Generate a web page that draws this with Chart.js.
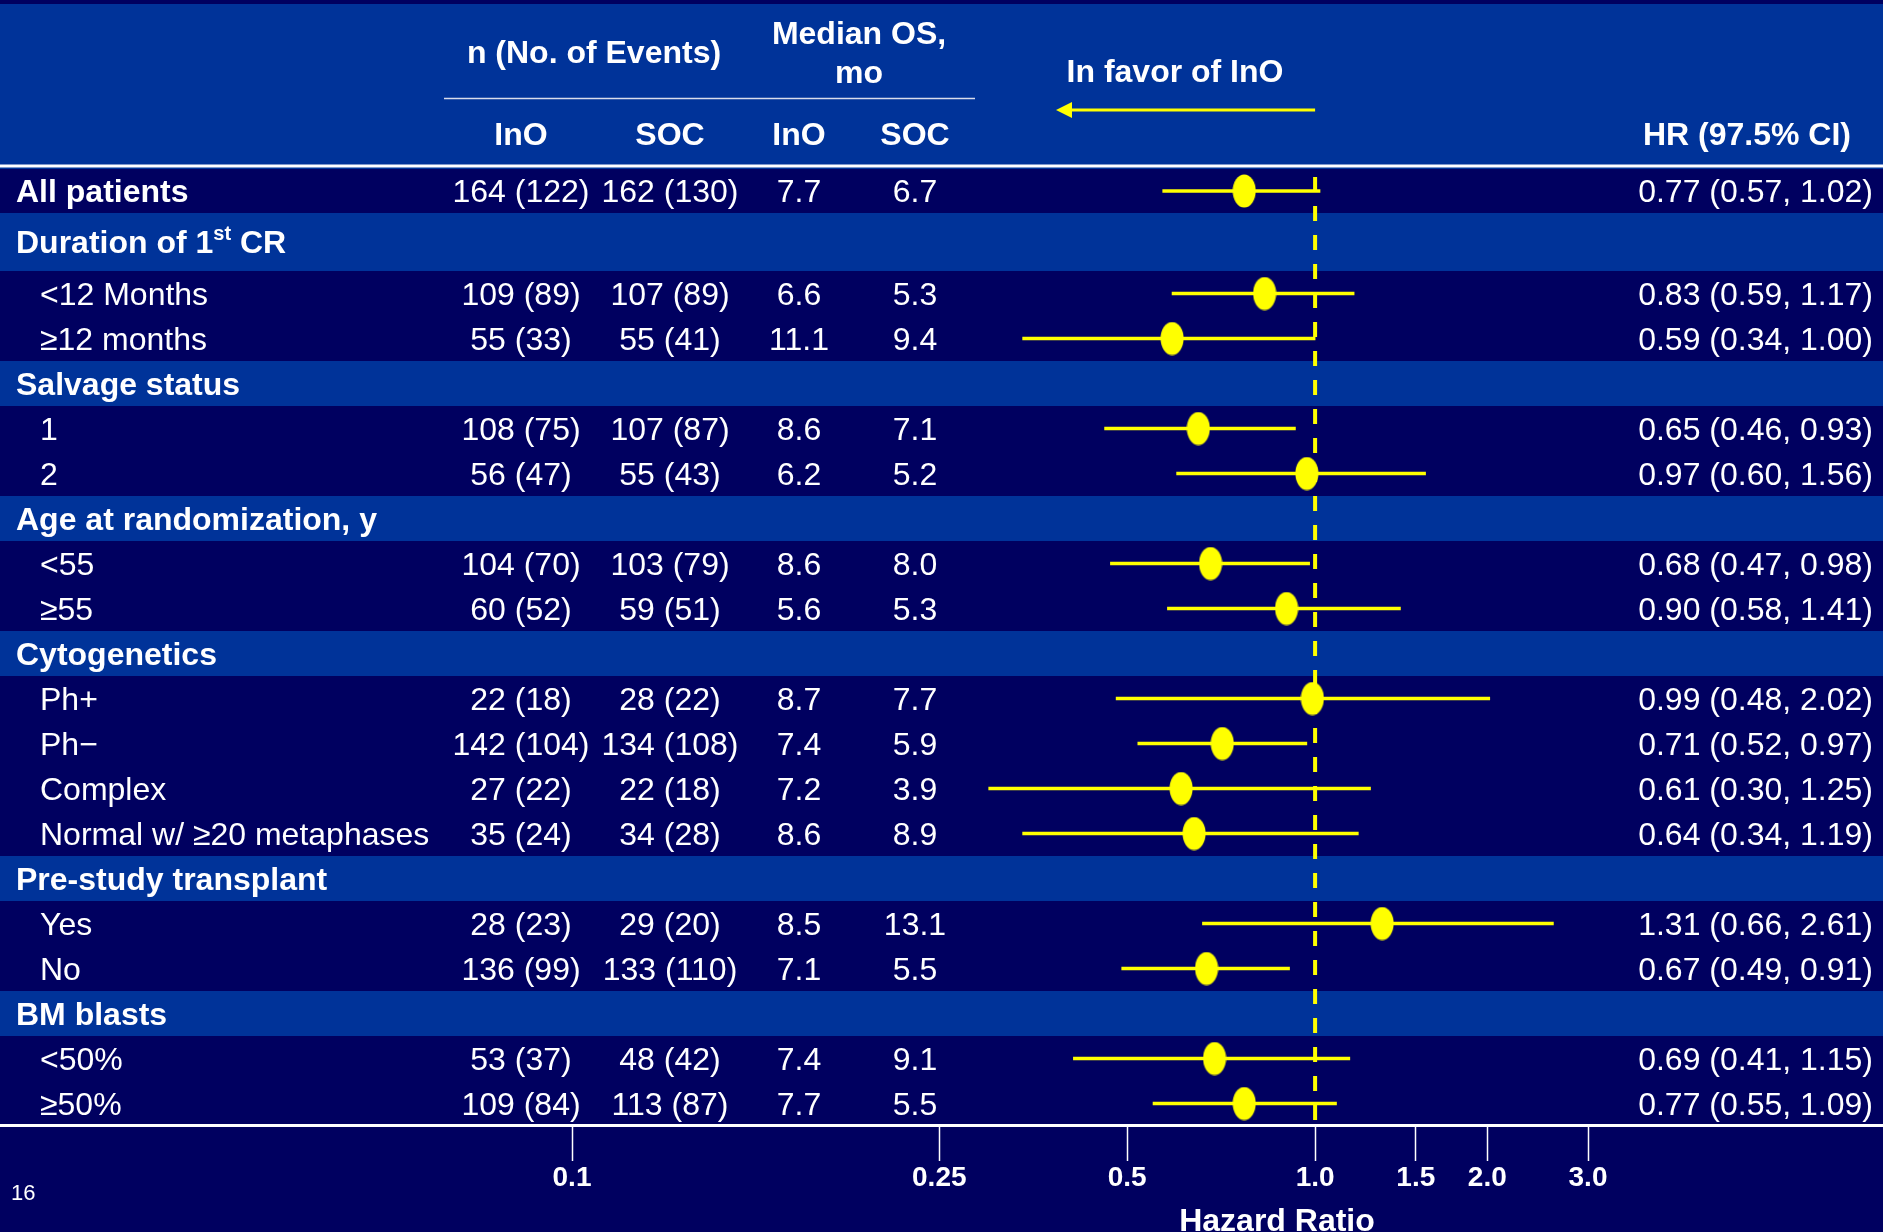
<!DOCTYPE html>
<html>
<head>
<meta charset="utf-8">
<title>Overall survival by subgroup – forest plot</title>
<script src="https://cdn.jsdelivr.net/npm/chart.js@4.4.1/dist/chart.umd.min.js"></script>
<style>
  html, body { margin: 0; padding: 0; background: #000060; }
  #wrap { width: 1883px; height: 1232px; position: relative; overflow: hidden; }
  canvas { display: block; }
</style>
</head>
<body>
<div id="wrap"><canvas id="forest" width="1883" height="1232"></canvas></div>
<script>
// ---- table rows -------------------------------------------------------
const rowLabels = [
  'All patients',
  'Duration of 1st CR', '<12 Months', '≥12 months',
  'Salvage status', '1', '2',
  'Age at randomization, y', '<55', '≥55',
  'Cytogenetics', 'Ph+', 'Ph−', 'Complex', 'Normal w/ ≥20 metaphases',
  'Pre-study transplant', 'Yes', 'No',
  'BM blasts', '<50%', '≥50%'
];
const rowKinds = [
  'total',
  'section', 'item', 'item',
  'section', 'item', 'item',
  'section', 'item', 'item',
  'section', 'item', 'item', 'item', 'item',
  'section', 'item', 'item',
  'section', 'item', 'item'
];

// n (No. of Events)
const nInO      = [164, null, 109, 55, null, 108, 56, null, 104, 60, null, 22, 142, 27, 35, null, 28, 136, null, 53, 109];
const eventsInO = [122, null,  89, 33, null,  75, 47, null,  70, 52, null, 18, 104, 22, 24, null, 23,  99, null, 37,  84];
const nSOC      = [162, null, 107, 55, null, 107, 55, null, 103, 59, null, 28, 134, 22, 34, null, 29, 133, null, 48, 113];
const eventsSOC = [130, null,  89, 41, null,  87, 43, null,  79, 51, null, 22, 108, 18, 28, null, 20, 110, null, 42,  87];

// Median OS, months
const medOSInO = [7.7, null, 6.6, 11.1, null, 8.6, 6.2, null, 8.6, 5.6, null, 8.7, 7.4, 7.2, 8.6, null, 8.5, 7.1, null, 7.4, 7.7];
const medOSSOC = [6.7, null, 5.3,  9.4, null, 7.1, 5.2, null, 8.0, 5.3, null, 7.7, 5.9, 3.9, 8.9, null, 13.1, 5.5, null, 9.1, 5.5];

// Hazard ratio with 97.5% CI
const hazardRatio = [0.77, null, 0.83, 0.59, null, 0.65, 0.97, null, 0.68, 0.90, null, 0.99, 0.71, 0.61, 0.64, null, 1.31, 0.67, null, 0.69, 0.77];
const ciLower     = [0.57, null, 0.59, 0.34, null, 0.46, 0.60, null, 0.47, 0.58, null, 0.48, 0.52, 0.30, 0.34, null, 0.66, 0.49, null, 0.41, 0.55];
const ciUpper     = [1.02, null, 1.17, 1.00, null, 0.93, 1.56, null, 0.98, 1.41, null, 2.02, 0.97, 1.25, 1.19, null, 2.61, 0.91, null, 1.15, 1.09];

// Hazard-ratio axis
const hrTicks      = [0.1, 0.25, 0.5, 1.0, 1.5, 2.0, 3.0];
const hrTickLabels = ['0.1', '0.25', '0.5', '1.0', '1.5', '2.0', '3.0'];
const hrReference  = 1.0;

// ---- styling ----------------------------------------------------------
const FONT   = '"Liberation Sans", Arial, Helvetica, sans-serif';
const NAVY   = '#000060';
const BLUE   = '#003399';
const YELLOW = '#ffff00';
const WHITE  = '#ffffff';

// Log axis whose decades are stretched piecewise between anchor values.
class AnchoredLogScale extends Chart.LogarithmicScale {
  static id = 'anchoredLog';
  _decimalOf(value) {
    const a = this.options.anchors;
    let k = 0;
    while (k < a.length - 2 && value > a[k + 1][0]) k++;
    const [v0, f0] = a[k];
    const [v1, f1] = a[k + 1];
    const t = (Math.log10(value) - Math.log10(v0)) / (Math.log10(v1) - Math.log10(v0));
    return f0 + t * (f1 - f0);
  }
  getPixelForValue(value) {
    if (value === undefined || value === 0) value = this.min;
    if (value === null || isNaN(value) || value <= 0) return NaN;
    return this.getPixelForDecimal(this._decimalOf(value));
  }
  getValueForPixel(pixel) {
    const d = this.getDecimalForPixel(pixel);
    const a = this.options.anchors;
    let k = 0;
    while (k < a.length - 2 && d > a[k + 1][1]) k++;
    const [v0, f0] = a[k];
    const [v1, f1] = a[k + 1];
    const t = (d - f0) / (f1 - f0);
    return Math.pow(10, Math.log10(v0) + t * (Math.log10(v1) - Math.log10(v0)));
  }
  buildTicks() {
    return this.options.tickValues.map(v => ({ value: v }));
  }
}

// Category axis whose rows may have different heights.
class RowBandScale extends Chart.CategoryScale {
  static id = 'rowBand';
  _cumulative() {
    const n = this.getLabels().length;
    const w = this.options.rowWeights || [];
    const cum = [0];
    for (let i = 0; i < n; i++) cum.push(cum[i] + (w[i] != null ? w[i] : 1));
    return cum;
  }
  bandOf(index) {
    const cum = this._cumulative();
    const total = cum[cum.length - 1];
    return [this.top + cum[index] / total * this.height,
            this.top + cum[index + 1] / total * this.height];
  }
  getPixelForValue(value) {
    if (typeof value !== 'number') value = this.parse(value);
    if (value === null || value === undefined || isNaN(value)) return NaN;
    const [a, b] = this.bandOf(Math.round(value));
    return (a + b) / 2;
  }
  getPixelForTick(index) {
    return this.getPixelForValue(this.ticks[index].value);
  }
  getValueForPixel(pixel) {
    const n = this.getLabels().length;
    for (let i = 0; i < n; i++) {
      const [a, b] = this.bandOf(i);
      if (pixel >= a && pixel < b) return i;
    }
    return null;
  }
}
Chart.register(AnchoredLogScale, RowBandScale);

// Point marker: upright yellow ellipse
const dotMarker = (() => {
  const c = document.createElement('canvas');
  c.width = 24; c.height = 34;
  const g = c.getContext('2d');
  g.fillStyle = YELLOW;
  g.beginPath();
  g.ellipse(12, 17, 11.5, 16.5, 0, 0, Math.PI * 2);
  g.fill();
  return c;
})();

function drawText(ctx, s, x, cy, opts = {}) {
  const size = opts.size || 32;
  ctx.font = `${opts.bold ? 'bold ' : ''}${size}px ${FONT}`;
  ctx.fillStyle = opts.color || WHITE;
  ctx.textAlign = opts.align || 'left';
  ctx.textBaseline = 'alphabetic';
  // cy is the vertical centre of the capital letters
  ctx.fillText(s, x, cy + size * 0.716 / 2);
  return ctx.measureText(s).width;
}

// Label with an ordinal suffix raised as superscript (e.g. "1st")
function drawLabel(ctx, s, x, cy, bold) {
  const m = s.match(/^(.*\d)(st|nd|rd|th)(\b.*)$/);
  if (!m) { drawText(ctx, s, x, cy, { bold }); return; }
  let w = drawText(ctx, m[1], x, cy, { bold });
  w += drawText(ctx, m[2], x + w, cy - 9, { bold, size: 20 });
  drawText(ctx, m[3], x + w, cy, { bold });
}

const fmtN = (n, e) => `${n} (${e})`;
const fmtHR = (h, lo, hi) => `${h.toFixed(2)} (${lo.toFixed(2)}, ${hi.toFixed(2)})`;

const backgroundPlugin = {
  id: 'tableBackground',
  beforeDraw(chart) {
    const { ctx, width, height } = chart;
    const yS = chart.scales.y;
    ctx.save();
    ctx.fillStyle = NAVY;
    ctx.fillRect(0, 0, width, height);
    ctx.fillStyle = BLUE;
    ctx.fillRect(0, 4, width, yS.top - 4);
    rowKinds.forEach((kind, i) => {
      const [a, b] = yS.bandOf(i);
      ctx.fillStyle = kind === 'section' ? BLUE : NAVY;
      ctx.fillRect(0, a, width, b - a);
    });
    ctx.fillStyle = WHITE;
    ctx.fillRect(0, yS.top - 4.5, width, 3);
    ctx.fillRect(0, yS.bottom - 2, width, 3);
    ctx.restore();
  }
};

const referenceLinePlugin = {
  id: 'referenceLine',
  beforeDatasetsDraw(chart) {
    const { ctx, chartArea } = chart;
    const x = chart.scales.x.getPixelForValue(hrReference);
    ctx.save();
    ctx.strokeStyle = YELLOW;
    ctx.lineWidth = 4;
    ctx.setLineDash([15, 14]);
    ctx.lineDashOffset = 21;
    ctx.beginPath();
    ctx.moveTo(x, chartArea.top);
    ctx.lineTo(x, chartArea.bottom - 2);
    ctx.stroke();
    ctx.restore();
  }
};

const tablePlugin = {
  id: 'tableText',
  afterDraw(chart) {
    const { ctx } = chart;
    const yS = chart.scales.y;
    const xS = chart.scales.x;
    ctx.save();

    // column headers
    drawText(ctx, 'n (No. of Events)', 594, 52, { bold: true, align: 'center' });
    drawText(ctx, 'Median OS,', 859, 33, { bold: true, align: 'center' });
    drawText(ctx, 'mo', 859, 72, { bold: true, align: 'center' });
    ctx.strokeStyle = '#d8dcec';
    ctx.lineWidth = 1.5;
    ctx.beginPath();
    ctx.moveTo(444, 98.5);
    ctx.lineTo(975, 98.5);
    ctx.stroke();
    drawText(ctx, 'InO', 521, 134, { bold: true, align: 'center' });
    drawText(ctx, 'SOC', 670, 134, { bold: true, align: 'center' });
    drawText(ctx, 'InO', 799, 134, { bold: true, align: 'center' });
    drawText(ctx, 'SOC', 915, 134, { bold: true, align: 'center' });
    drawText(ctx, 'HR (97.5% CI)', 1851, 134, { bold: true, align: 'right' });

    // favour arrow pointing away from HR = 1
    drawText(ctx, 'In favor of InO', 1175, 71, { bold: true, align: 'center' });
    const x1 = xS.getPixelForValue(hrReference);
    ctx.strokeStyle = YELLOW;
    ctx.fillStyle = YELLOW;
    ctx.lineWidth = 3;
    ctx.beginPath();
    ctx.moveTo(x1, 110);
    ctx.lineTo(1068, 110);
    ctx.stroke();
    ctx.beginPath();
    ctx.moveTo(1056, 110);
    ctx.lineTo(1072, 102);
    ctx.lineTo(1072, 118);
    ctx.closePath();
    ctx.fill();

    // rows
    rowLabels.forEach((label, i) => {
      const cy = yS.getPixelForValue(i);
      const kind = rowKinds[i];
      if (kind === 'item') drawLabel(ctx, label, 40, cy, false);
      else drawLabel(ctx, label, 16, cy, true);
      if (nInO[i] == null) return;
      drawText(ctx, fmtN(nInO[i], eventsInO[i]), 521, cy, { align: 'center' });
      drawText(ctx, fmtN(nSOC[i], eventsSOC[i]), 670, cy, { align: 'center' });
      drawText(ctx, medOSInO[i].toFixed(1), 799, cy, { align: 'center' });
      drawText(ctx, medOSSOC[i].toFixed(1), 915, cy, { align: 'center' });
      drawText(ctx, fmtHR(hazardRatio[i], ciLower[i], ciUpper[i]), 1873, cy, { align: 'right' });
    });

    // axis title and page number
    ctx.font = `bold 32px ${FONT}`;
    ctx.fillStyle = WHITE;
    ctx.textAlign = 'center';
    ctx.textBaseline = 'alphabetic';
    ctx.fillText('Hazard Ratio', 1277, 1231);
    drawText(ctx, '16', 11, 1192, { size: 22 });
    ctx.restore();
  }
};

new Chart(document.getElementById('forest'), {
  type: 'bar',
  data: {
    labels: rowLabels,
    datasets: [
      {
        type: 'bar',
        label: '97.5% CI',
        indexAxis: 'y',
        data: ciLower.map((lo, i) => (lo == null ? null : [lo, ciUpper[i]])),
        backgroundColor: YELLOW,
        borderWidth: 0,
        barThickness: 3,
        order: 2
      },
      {
        type: 'scatter',
        label: 'Hazard ratio',
        data: hazardRatio
          .map((h, i) => (h == null ? null : { x: h, y: rowLabels[i] }))
          .filter(p => p !== null),
        pointStyle: dotMarker,
        pointRadius: 12,
        order: 1
      }
    ]
  },
  options: {
    responsive: false,
    devicePixelRatio: 1,
    animation: false,
    events: [],
    layout: { padding: { left: 572, right: 295, top: 169, bottom: 0 } },
    plugins: { legend: { display: false }, tooltip: { enabled: false } },
    scales: {
      x: {
        type: 'anchoredLog',
        position: 'bottom',
        offset: false,
        min: 0.1,
        max: 3,
        beginAtZero: false,
        anchors: [[0.1, 0], [0.25, 0.3615], [1, 0.7314], [3, 1]],
        tickValues: hrTicks,
        afterFit(scale) { scale.height = 106; },
        border: { display: false },
        grid: {
          display: true,
          offset: false,
          drawOnChartArea: false,
          drawTicks: true,
          tickLength: 35,
          tickWidth: 1.5,
          tickColor: WHITE,
          color: WHITE
        },
        ticks: {
          autoSkip: false,
          maxRotation: 0,
          padding: 0,
          color: WHITE,
          font: { family: FONT, size: 28, weight: 'bold' },
          callback: (value, index) => hrTickLabels[index]
        }
      },
      y: {
        type: 'rowBand',
        display: false,
        rowWeights: rowKinds.map((k, i) => (i === 0 ? 44 / 45 : i === 1 ? 58 / 45 : 1))
      }
    }
  },
  plugins: [backgroundPlugin, referenceLinePlugin, tablePlugin]
});
</script>
</body>
</html>
